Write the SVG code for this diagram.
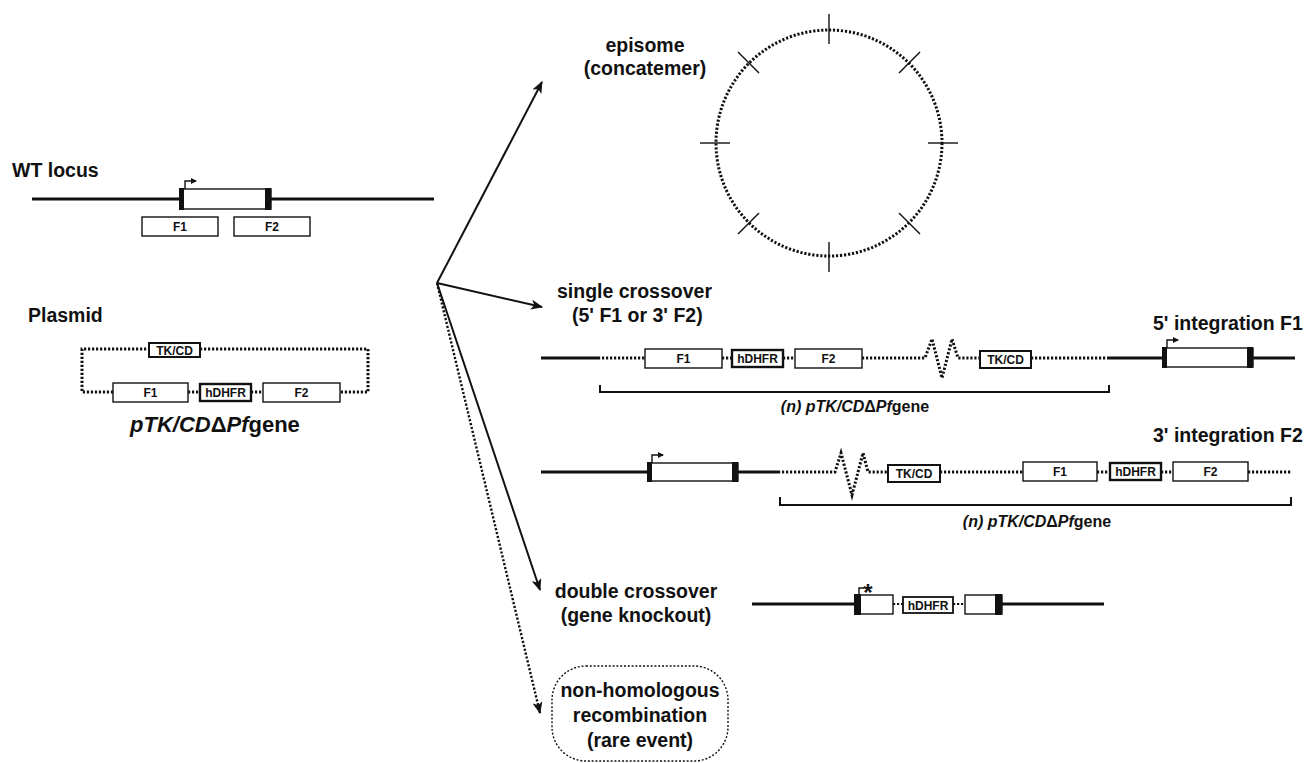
<svg xmlns="http://www.w3.org/2000/svg" width="1308" height="763" viewBox="0 0 1308 763">
<defs>
<style>
text{font-family:"Liberation Sans",Arial,Helvetica,sans-serif;font-weight:bold;fill:#111}
.lbl{font-size:19.5px}
.box{fill:#fff;stroke:#111;stroke-width:1.4}
.hbox{fill:#fff;stroke:#111;stroke-width:2.4}
.bt{font-size:12px;text-anchor:middle}
.chr{stroke:#111;stroke-width:3;fill:none}
.dot{stroke:#111;stroke-width:3;stroke-dasharray:2.2 1.8;fill:none}
.cap{fill:#111}
.thin{stroke:#111;stroke-width:1.4;fill:none}
.arrow{stroke:#111;stroke-width:2;fill:none}
.brk{stroke:#111;stroke-width:2;fill:none}
.it{font-style:italic}
</style>
<marker id="ah" viewBox="0 0 12 10" refX="11" refY="5" markerWidth="12" markerHeight="10" markerUnits="userSpaceOnUse" orient="auto">
<path d="M0,0 L12,5 L0,10 L3,5 z" fill="#111"/>
</marker>
<marker id="pa" viewBox="0 0 6 6" refX="5" refY="3" markerWidth="6" markerHeight="6" markerUnits="userSpaceOnUse" orient="auto">
<path d="M0,0 L6,3 L0,6 z" fill="#111"/>
</marker>
</defs>
<rect width="1308" height="763" fill="#fff"/>

<g id="connectors">
<line class="arrow" x1="437" y1="283" x2="542" y2="82" marker-end="url(#ah)"/>
<line class="arrow" x1="437" y1="283" x2="542" y2="307" marker-end="url(#ah)"/>
<line class="arrow" x1="437" y1="283" x2="540" y2="590" marker-end="url(#ah)"/>
<line class="dot" style="stroke-width:2.4" x1="437" y1="283" x2="540" y2="713" marker-end="url(#ah)"/>
</g>

<g id="wt-locus">
<text class="lbl" x="12" y="177">WT locus</text>
<line class="chr" x1="32" y1="199" x2="434" y2="199"/>
<rect class="box" x="180" y="189" width="91" height="20"/>
<rect class="cap" x="179" y="188" width="5" height="22"/>
<rect class="cap" x="265" y="188" width="6" height="22"/>
<path class="thin" d="M185,189 V181 H196" marker-end="url(#pa)"/>
<rect class="box" x="142" y="217" width="76" height="19"/>
<text class="bt" x="180" y="231">F1</text>
<rect class="box" x="234" y="217" width="76" height="19"/>
<text class="bt" x="272" y="231">F2</text>
</g>

<g id="plasmid">
<text class="lbl" x="28" y="322">Plasmid</text>
<path class="dot" d="M113,392 H82 V349 H149 M200,349 H368 V392 H340 M188,392 H200 M251,392 H263"/>
<rect class="box" x="149" y="343" width="51" height="14" style="stroke-width:2"/>
<text class="bt" x="174.5" y="354.5">TK/CD</text>
<rect class="box" x="113" y="383" width="75" height="19"/>
<text class="bt" x="150.5" y="397">F1</text>
<rect class="hbox" x="200" y="384" width="51" height="17"/>
<text class="bt" x="225.5" y="397">hDHFR</text>
<rect class="box" x="263" y="383" width="77" height="19"/>
<text class="bt" x="301.5" y="397">F2</text>
<text x="130" y="432" style="font-size:22px"><tspan class="it">pTK/CD</tspan>Δ<tspan class="it">Pf</tspan>gene</text>
</g>

<g id="episome">
<text class="lbl" x="645" y="52" text-anchor="middle">episome</text>
<text class="lbl" x="645" y="75" text-anchor="middle">(concatemer)</text>
<circle class="dot" cx="829" cy="143" r="113"/>
<g class="thin">
<line x1="829" y1="14" x2="829" y2="44"/>
<line x1="829" y1="242" x2="829" y2="272"/>
<line x1="700" y1="143" x2="730" y2="143"/>
<line x1="928" y1="143" x2="958" y2="143"/>
<line x1="738" y1="52" x2="759" y2="73"/>
<line x1="920" y1="52" x2="899" y2="73"/>
<line x1="738" y1="234" x2="759" y2="213"/>
<line x1="920" y1="234" x2="899" y2="213"/>
</g>
</g>

<g id="single-crossover">
<text class="lbl" x="557" y="298">single crossover</text>
<text class="lbl" x="572" y="322">(5' F1 or 3' F2)</text>
<text class="lbl" x="1153" y="330">5' integration F1</text>
<line class="chr" x1="541" y1="358" x2="598" y2="358"/>
<path class="dot" d="M598,358 H645 M722,358 H732 M783,358 H795 M862,358 H925 L932,339 L942,378 L952,339 L958,358 H980 M1031,358 H1108"/>
<rect class="box" x="645" y="349" width="77" height="19"/>
<text class="bt" x="683.5" y="363">F1</text>
<rect class="hbox" x="732" y="350" width="51" height="17"/>
<text class="bt" x="757.5" y="363">hDHFR</text>
<rect class="box" x="795" y="349" width="67" height="19"/>
<text class="bt" x="828.5" y="363">F2</text>
<rect class="box" x="980" y="351" width="51" height="17" style="stroke-width:2"/>
<text class="bt" x="1005.5" y="364">TK/CD</text>
<line class="chr" x1="1108" y1="358" x2="1295" y2="358"/>
<rect class="box" x="1163" y="348" width="90" height="19"/>
<rect class="cap" x="1162" y="347" width="5" height="21"/>
<rect class="cap" x="1247" y="347" width="6" height="21"/>
<path class="thin" d="M1167,348 V340 H1178" marker-end="url(#pa)"/>
<path class="brk" d="M600,385 V392 H1109 V385"/>
<text x="855" y="412" text-anchor="middle" style="font-size:16px"><tspan class="it">(n) pTK/CD</tspan>Δ<tspan class="it">Pf</tspan>gene</text>
</g>

<g id="integration-3">
<text class="lbl" x="1153" y="442">3' integration F2</text>
<line class="chr" x1="541" y1="472" x2="778" y2="472"/>
<rect class="box" x="648" y="463" width="90" height="18"/>
<rect class="cap" x="647" y="462" width="5" height="20"/>
<rect class="cap" x="732" y="462" width="6" height="20"/>
<path class="thin" d="M652,463 V455 H663" marker-end="url(#pa)"/>
<path class="dot" d="M778,472 H835 L841,453 L852,495 L863,453 L868,472 H888 M940,472 H1023 M1097,472 H1110 M1161,472 H1173 M1248,472 H1292"/>
<rect class="box" x="888" y="465" width="52" height="17" style="stroke-width:2"/>
<text class="bt" x="914" y="478">TK/CD</text>
<rect class="box" x="1023" y="462" width="74" height="19"/>
<text class="bt" x="1060" y="476">F1</text>
<rect class="hbox" x="1110" y="463" width="51" height="17"/>
<text class="bt" x="1135.5" y="476">hDHFR</text>
<rect class="box" x="1173" y="462" width="75" height="19"/>
<text class="bt" x="1210.5" y="476">F2</text>
<path class="brk" d="M780,497 V505 H1291 V497"/>
<text x="1037" y="527" text-anchor="middle" style="font-size:16px"><tspan class="it">(n) pTK/CD</tspan>Δ<tspan class="it">Pf</tspan>gene</text>
</g>

<g id="double-crossover">
<text class="lbl" x="636" y="598" text-anchor="middle">double crossover</text>
<text class="lbl" x="636" y="622" text-anchor="middle">(gene knockout)</text>
<line class="chr" x1="752" y1="604" x2="855" y2="604"/>
<line class="chr" x1="1002" y1="604" x2="1104" y2="604"/>
<rect class="box" x="855" y="595" width="38" height="19"/>
<rect class="cap" x="854" y="594" width="7" height="21"/>
<path class="thin" d="M859,594 V588 H864"/>
<text x="868" y="601" text-anchor="middle" style="font-size:24px">*</text>
<path class="dot" style="stroke-width:2.2" d="M893,604 H903 M953,604 H965"/>
<rect class="hbox" x="903" y="597" width="50" height="16" style="stroke-width:1.8"/>
<text class="bt" x="928" y="609.5">hDHFR</text>
<rect class="box" x="965" y="595" width="37" height="19"/>
<rect class="cap" x="995" y="594" width="7" height="21"/>
</g>

<g id="non-homologous">
<rect x="552" y="666" width="176" height="95" rx="34" ry="34" fill="none" stroke="#111" stroke-width="1.4" stroke-dasharray="2 1.8"/>
<text class="lbl" x="640" y="697" text-anchor="middle">non-homologous</text>
<text class="lbl" x="640" y="722" text-anchor="middle">recombination</text>
<text class="lbl" x="640" y="747" text-anchor="middle">(rare event)</text>
</g>
</svg>
